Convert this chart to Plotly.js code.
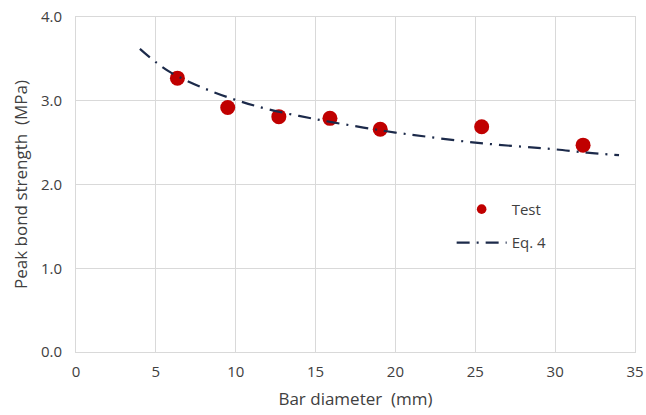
<!DOCTYPE html>
<html>
<head>
<meta charset="utf-8">
<script src="https://cdn.plot.ly/plotly-3.0.1.min.js"></script>
<style>html,body{margin:0;padding:0;background:#fff;}#chart{width:646px;height:415px;}</style>
</head>
<body>
<div id="chart"></div>
<script>
// Test data
const testDiameter = [6.35, 9.5, 12.7, 15.9, 19.05, 25.4, 31.75];
const testStrength = [3.27, 2.92, 2.81, 2.79, 2.66, 2.69, 2.47];
// Eq. 4 curve
const eqDiameter = [4, 5, 6, 8, 10, 12, 15, 18, 20, 22, 25, 28, 30, 32, 34];
const eqStrength = [3.62, 3.46, 3.33, 3.15, 3.01, 2.90, 2.78, 2.68, 2.62, 2.57, 2.50, 2.45, 2.42, 2.38, 2.35];
const xTicks = [0, 5, 10, 15, 20, 25, 30, 35];
const yTicks = [0, 1, 2, 3, 4];
const yTickText = ["0.0", "1.0", "2.0", "3.0", "4.0"];

const traces = [
  {
    x: testDiameter, y: testStrength, name: "Test", type: "scatter", mode: "markers",
    legendgroup: "a",
    marker: {color: "#c00000", size: 15, line: {width: 0}}
  },
  {
    x: eqDiameter, y: eqStrength, name: "Eq. 4", type: "scatter", mode: "lines",
    legendgroup: "b",
    line: {color: "#1c2a4a", width: 2.2, dash: "13px,7px,2px,7px", shape: "spline"}
  }
];

const layout = {
  width: 646, height: 415,
  margin: {l: 76, r: 11, t: 17, b: 63},
  paper_bgcolor: "#ffffff", plot_bgcolor: "#ffffff",
  font: {family: "Open Sans, Noto Sans, sans-serif", color: "#404040", size: 14},
  showlegend: true,
  legend: {x: 0.672, y: 0.475, xanchor: "left", yanchor: "top", bgcolor: "rgba(0,0,0,0)",
           font: {size: 15, color: "#404040"}, tracegroupgap: 11, itemwidth: 50,
           itemsizing: "constant"},
  xaxis: {
    range: [0, 35], tickvals: xTicks, ticktext: xTicks.map(String),
    showgrid: true, gridcolor: "#d9d9d9", gridwidth: 1,
    zeroline: false, showline: true, mirror: true, linecolor: "#d9d9d9", linewidth: 1,
    ticks: "outside", ticklen: 6, tickcolor: "rgba(0,0,0,0)",
    tickfont: {size: 15, color: "#404040"},
    title: {text: "Bar diameter\u00a0\u00a0(mm)", font: {size: 17, color: "#404040"}, standoff: 13}
  },
  yaxis: {
    range: [0, 4], tickvals: yTicks, ticktext: yTickText,
    showgrid: true, gridcolor: "#d9d9d9", gridwidth: 1,
    zeroline: false, showline: true, mirror: true, linecolor: "#d9d9d9", linewidth: 1,
    ticks: "outside", ticklen: 10, tickcolor: "rgba(0,0,0,0)",
    tickfont: {size: 15, color: "#404040"},
    title: {text: "Peak bond strength\u00a0\u00a0(MPa)", font: {size: 17, color: "#404040"}, standoff: 8}
  }
};

Plotly.newPlot("chart", traces, layout, {staticPlot: true, displayModeBar: false}).then(function (gd) {
  // thin the legend line sample to match the trace, shrink the legend dot
  gd.querySelectorAll(".legend .legendlines path").forEach(function (p) {
    p.style.strokeWidth = "2.2px";
  });
  gd.querySelectorAll(".legend .legendpoints path").forEach(function (p) {
    const t = p.getAttribute("transform") || "";
    p.setAttribute("transform", t + " scale(0.8)");
  });
});
</script>
</body>
</html>
